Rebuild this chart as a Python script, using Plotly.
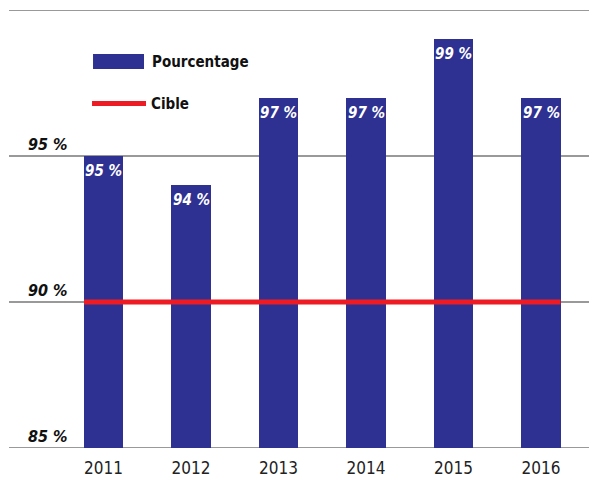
import plotly.graph_objects as go

years = ["2011", "2012", "2013", "2014", "2015", "2016"]
pourcentage = [95, 94, 97, 97, 99, 97]
cible = 90
y_ticks = [85, 90, 95, 100]
y_tick_labels = ["85 %", "90 %", "95 %", "100 %"]

BLUE = "#2e3192"
RED = "#ed1c24"
GRID = "#999999"
FONT = "DejaVu Sans Condensed, Liberation Sans Narrow, sans-serif"

xpos = list(range(len(years)))
bar_w = 0.446

fig = go.Figure()
fig.add_trace(go.Bar(
    x=xpos, y=pourcentage, width=bar_w, marker=dict(color=BLUE, line=dict(width=0)),
    showlegend=False, hoverinfo="skip",
))
fig.add_trace(go.Scatter(
    x=[xpos[0] - bar_w / 2, xpos[-1] + bar_w / 2], y=[cible, cible],
    mode="lines", line=dict(color=RED, width=5), showlegend=False,
))

# value labels inside the bars
for xv, v in zip(xpos, pourcentage):
    fig.add_annotation(x=xv, y=v, text=f"<b><i>{v} %</i></b>", showarrow=False,
                       xanchor="center", yanchor="top", yshift=-4,
                       font=dict(size=15, family=FONT, color="white"))

# custom legend
fig.add_shape(type="rect", xref="paper", yref="paper", x0=0.1429, x1=0.2296,
              y0=0.8653, y1=0.8995, fillcolor=BLUE, line=dict(width=0))
fig.add_shape(type="line", xref="paper", yref="paper", x0=0.1412, x1=0.233,
              y0=0.7865, y1=0.7865, line=dict(color=RED, width=5))
fig.add_annotation(xref="paper", yref="paper", x=0.2398, y=0.8813, text="<b>Pourcentage</b>",
                   showarrow=False, xanchor="left", yanchor="middle",
                   font=dict(size=15, family=FONT, color="#111"))
fig.add_annotation(xref="paper", yref="paper", x=0.238, y=0.7865, text="<b>Cible</b>",
                   showarrow=False, xanchor="left", yanchor="middle",
                   font=dict(size=15, family=FONT, color="#111"))

# edge gridlines (top and bottom)
for yv in (y_ticks[0], y_ticks[-1]):
    fig.add_shape(type="line", xref="paper", yref="y", x0=0, x1=1, y0=yv, y1=yv,
                  line=dict(color=GRID, width=2), layer="below")

fig.update_layout(
    width=589, height=475,
    margin=dict(l=1, r=0, t=2, b=35),
    plot_bgcolor="white", paper_bgcolor="white",
    bargap=0,
    xaxis=dict(
        range=[-1.08, 5.64], tickmode="array", tickvals=xpos, ticktext=years,
        showgrid=False, zeroline=False, showline=False, ticks="",
        automargin=False, ticklabelstandoff=8,
        tickfont=dict(size=17, family=FONT, color="#222"),
    ),
    yaxis=dict(
        range=[85, 100], tickmode="array", tickvals=y_ticks,
        ticktext=[f"<b><i>{t}</i></b>" for t in y_tick_labels],
        showgrid=True, gridcolor=GRID, gridwidth=2,
        zeroline=False, showline=False, ticks="",
        automargin=False,
        ticklabelposition="inside top", ticklabelstandoff=16,
        ticklabeloverflow="allow",
        tickfont=dict(size=16, family=FONT, color="#111"),
    ),
)

fig.write_html("out.html")
